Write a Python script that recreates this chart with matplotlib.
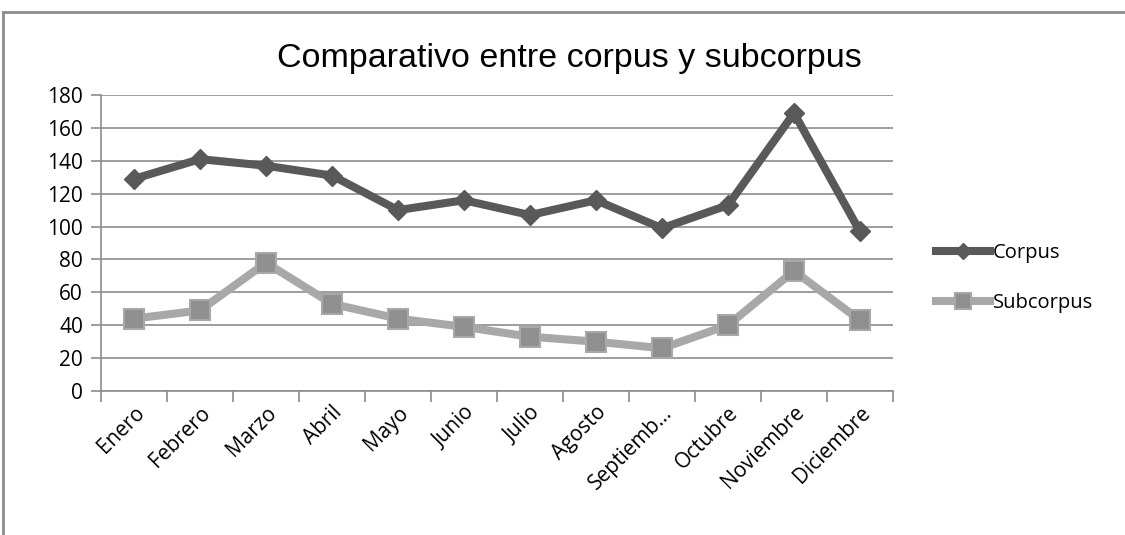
import matplotlib
matplotlib.use("Agg")
import matplotlib.pyplot as plt
from matplotlib.lines import Line2D

# Data
months = ["Enero", "Febrero", "Marzo", "Abril", "Mayo", "Junio", "Julio",
          "Agosto", "Septiemb...", "Octubre", "Noviembre", "Diciembre"]
corpus = [129, 141, 137, 131, 110, 116, 107, 116, 99, 113, 169, 97]
subcorpus = [44, 49, 78, 53, 44, 39, 33, 30, 26, 40, 73, 43]

LABEL_FONT = "Open Sans"
TITLE_FONT = "Liberation Sans"

fig = plt.figure(figsize=(11.25, 5.35), dpi=100)
ax = fig.add_axes([101 / 1125, 144 / 535, 792 / 1125, 296 / 535])

x = list(range(len(months)))
ax.plot(x, corpus, color="#595959", lw=5.8, marker="D", markersize=10.5,
        markerfacecolor="#595959", markeredgecolor="#595959",
        zorder=4, label="Corpus")
ax.plot(x, subcorpus, color="#a8a8a8", lw=5.8, marker="s", markersize=15,
        markerfacecolor="#8f8f8f", markeredgecolor="#a8a8a8", markeredgewidth=1.5,
        zorder=3, label="Subcorpus")

ax.set_xlim(-0.5, len(months) - 0.5)
ax.set_ylim(0, 180)
ax.set_yticks(range(0, 181, 20))
ax.yaxis.grid(True, color="#8c8c8c", lw=1.2)
ax.set_axisbelow(True)

ax.set_xticks(x)
ax.set_xticklabels(months, rotation=45, ha="right", rotation_mode="anchor",
                   fontsize=15, family=LABEL_FONT)
ax.tick_params(axis="x", which="major", length=0, pad=8)
ax.set_xticks([i - 0.5 for i in range(len(months) + 1)], minor=True)
ax.tick_params(axis="x", which="minor", length=8, width=1.2, color="#8c8c8c",
               direction="out")
ax.tick_params(axis="y", length=7, width=1.2, color="#8c8c8c", pad=6)
for lab in ax.get_yticklabels():
    lab.set_family(LABEL_FONT)
    lab.set_fontsize(15)

for side in ["top", "right"]:
    ax.spines[side].set_visible(False)
for side in ["left", "bottom"]:
    ax.spines[side].set_color("#8c8c8c")
    ax.spines[side].set_linewidth(1.2)

fig.text(569 / 1125, 1 - 58 / 535, "Comparativo entre corpus y subcorpus",
         ha="center", va="center", fontsize=24.5, family=TITLE_FONT)

leg = fig.legend(loc="center left", bbox_to_anchor=(918 / 1125, 1 - 278 / 535),
                 frameon=False, prop={"family": LABEL_FONT, "size": 14.5},
                 handlelength=2.7, handletextpad=0.1, labelspacing=1.5,
                 markerscale=0.8)

# outer chart frame (top and left edges visible in the reference)
fig.add_artist(Line2D([3 / 1125, 3 / 1125], [0, 1 - 12 / 535],
                      transform=fig.transFigure, color="#8c8c8c", lw=2))
fig.add_artist(Line2D([3 / 1125, 1], [1 - 12 / 535, 1 - 12 / 535],
                      transform=fig.transFigure, color="#8c8c8c", lw=2))

fig.savefig("out.png", dpi=100)
